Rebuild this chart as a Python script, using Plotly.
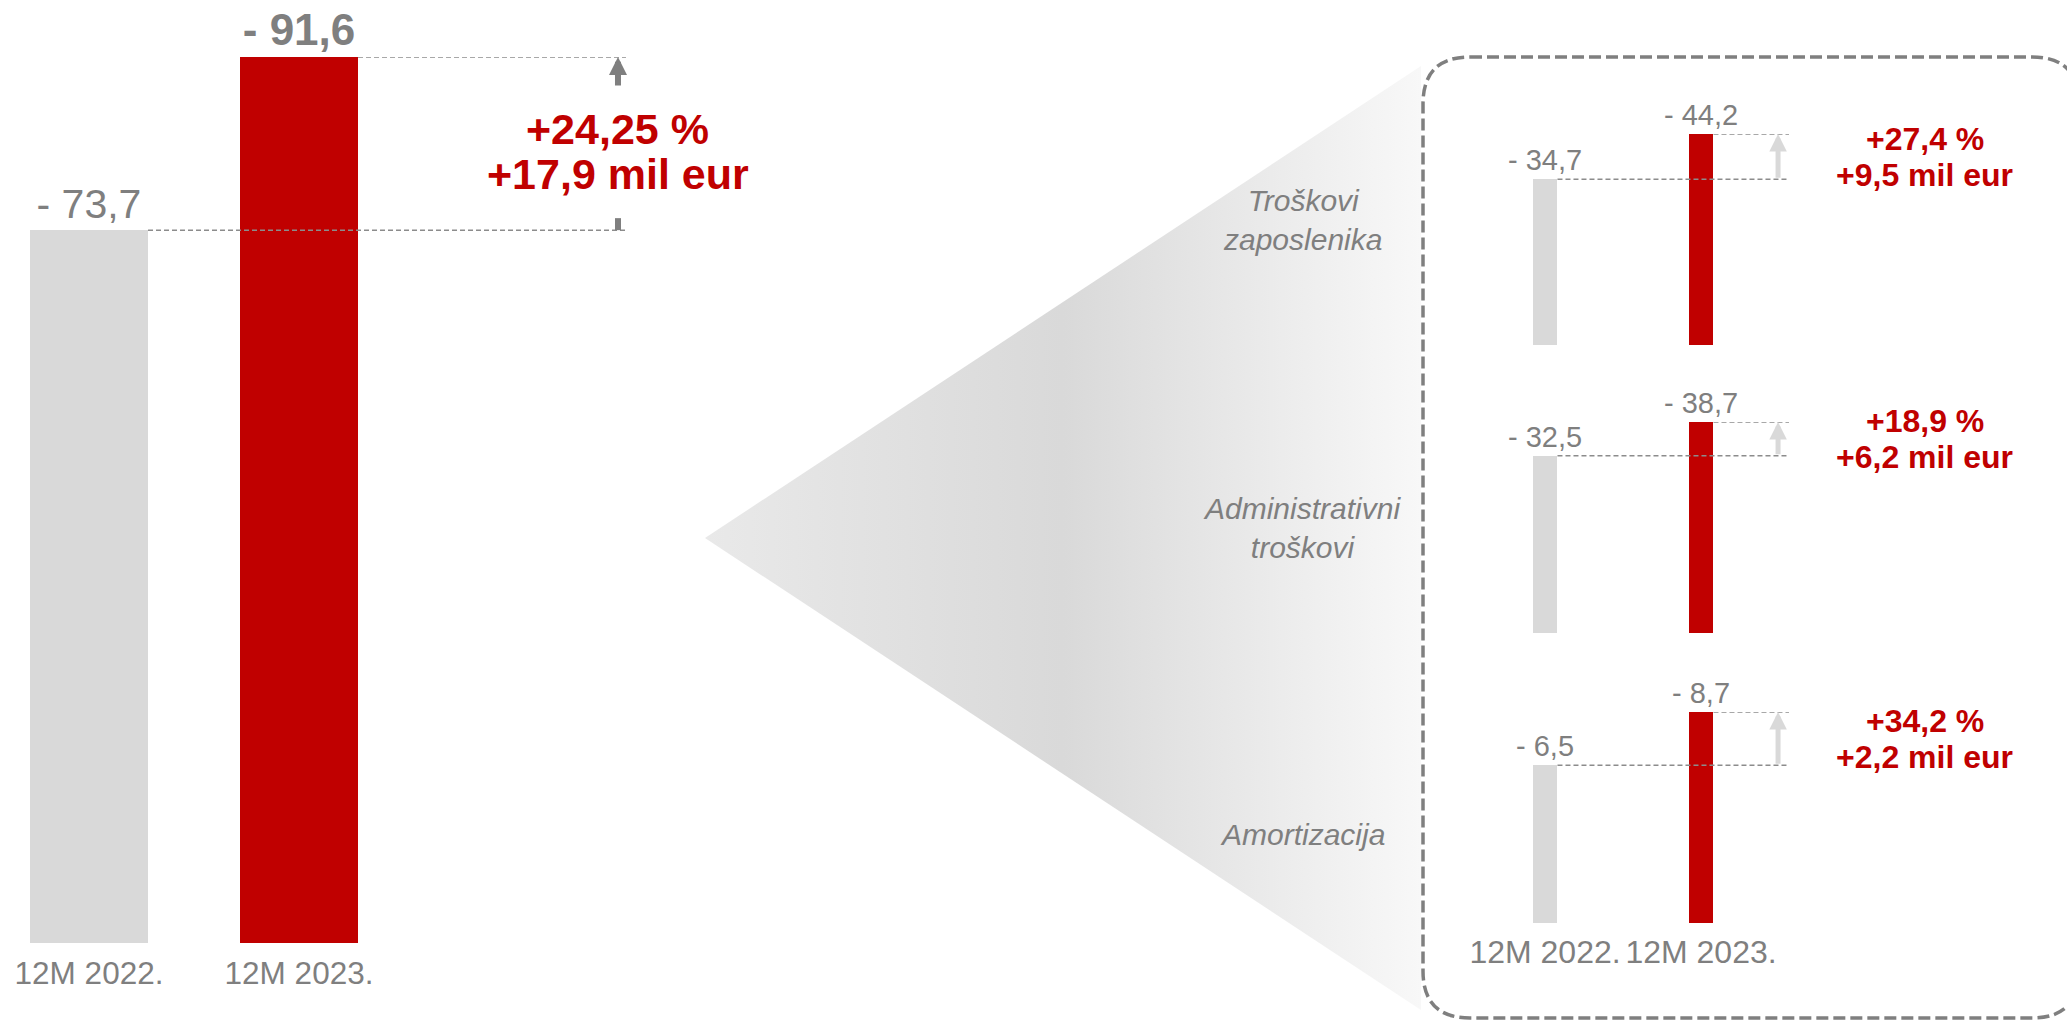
import base64
import plotly.graph_objects as go

# ---- data ----
PERIODS = ["12M 2022.", "12M 2023."]
TOTAL = [73.7, 91.6]
TOTAL_PCT = 24.25
TOTAL_DIFF = 17.9

GROUPS = ["Troškovi<br>zaposlenika", "Administrativni<br>troškovi", "Amortizacija"]
PREV = [34.7, 32.5, 6.5]
CURR = [44.2, 38.7, 8.7]
PCT = [27.4, 18.9, 34.2]
DIFF = [9.5, 6.2, 2.2]

W, H = 2067, 1022
RED = "#C00000"
LIGHT = "#D9D9D9"
TXT = "#7F7F7F"
FONT = "Arial, Liberation Sans, sans-serif"


def px_x(p):
    return p / W


def px_y(p):
    return 1 - p / H


def neg(v):
    return "- " + f"{v:.1f}".replace(".", ",")


def plus(v, unit):
    return "+" + f"{v:g}".replace(".", ",") + unit


fig = go.Figure()

# ---- main chart ----
fig.add_trace(go.Bar(
    x=PERIODS, y=TOTAL, width=0.562,
    marker=dict(color=[LIGHT, RED], line=dict(width=0)),
    text=[neg(TOTAL[0]), "<b>" + neg(TOTAL[1]) + "</b>"],
    textposition="outside", constraintext="none", cliponaxis=False,
    textfont=dict(size=[41, 44], color=TXT, family=FONT),
    xaxis="x", yaxis="y", showlegend=False, hoverinfo="skip",
))

main_px = 210  # px per category
layout_axes = dict(
    xaxis=dict(domain=[0, px_x(682)], range=[-89 / main_px, (682 - 89) / main_px],
               showgrid=False, zeroline=False, showline=False, ticks="",
               ticklabelstandoff=8,
               tickfont=dict(size=31.5, color=TXT, family=FONT), anchor="y"),
    yaxis=dict(domain=[px_y(943), px_y(57)], range=[0, max(TOTAL)], visible=False, anchor="x"),
)

shapes = []
annotations = []
guide = dict(color="#8C8C8C", width=1.5, dash="5px,3px")

# guide lines + arrow on main chart
x_end = 2.557
x_arrow = 2.519
shapes.append(dict(type="line", xref="x", yref="y", x0=0.281, x1=x_end, y0=TOTAL[0], y1=TOTAL[0],
                   line=guide, layer="above"))
shapes.append(dict(type="line", xref="x", yref="y", x0=1.281, x1=x_end, y0=TOTAL[1], y1=TOTAL[1],
                   line=guide, layer="above"))
shapes.append(dict(type="line", xref="x", yref="y", x0=x_arrow, x1=x_arrow,
                   ysizemode="pixel", yanchor=TOTAL[0], y0=0, y1=12,
                   line=dict(color=TXT, width=6)))
annotations.append(dict(xref="x", yref="y", x=x_arrow, y=TOTAL[1], ax=0, ay=30, text="",
                        showarrow=True, arrowhead=2, arrowsize=0.6, arrowwidth=6, arrowcolor=TXT))
mid = (TOTAL[0] + TOTAL[1]) / 2
annotations.append(dict(xref="x", yref="y", x=x_arrow, y=mid, yshift=15, showarrow=False,
                        text="<b>" + plus(TOTAL_PCT, " %") + "</b>",
                        font=dict(size=43, color=RED, family=FONT)))
annotations.append(dict(xref="x", yref="y", x=x_arrow, y=mid, yshift=-30, showarrow=False,
                        text="<b>" + plus(TOTAL_DIFF, " mil eur") + "</b>",
                        font=dict(size=43, color=RED, family=FONT)))

# ---- breakdown mini charts ----
mini_px = 156
bottoms = [345, 633, 923]
bar_h = 211
label_y = [220, 528, 834]
for i in range(len(GROUPS)):
    k = i + 2
    xa, ya = f"x{k}", f"y{k}"
    fig.add_trace(go.Bar(
        x=PERIODS, y=[PREV[i], CURR[i]], width=0.16,
        marker=dict(color=[LIGHT, RED], line=dict(width=0)),
        text=[neg(PREV[i]), neg(CURR[i])],
        textposition="outside", constraintext="none", cliponaxis=False,
        textfont=dict(size=29, color=TXT, family=FONT),
        xaxis=xa, yaxis=ya, showlegend=False, hoverinfo="skip",
    ))
    layout_axes[f"xaxis{k}"] = dict(
        domain=[px_x(1430), px_x(2060)],
        range=[(1430 - 1545) / mini_px, (2060 - 1545) / mini_px],
        showgrid=False, zeroline=False, showline=False, ticks="",
        showticklabels=(i == len(GROUPS) - 1), ticklabelstandoff=7,
        tickfont=dict(size=32, color=TXT, family=FONT), anchor=ya,
    )
    layout_axes[f"yaxis{k}"] = dict(
        domain=[px_y(bottoms[i]), px_y(bottoms[i] - bar_h)],
        range=[0, max(PREV[i], CURR[i])], visible=False, anchor=xa,
    )
    for x0, yv in [(0.08, PREV[i]), (1.08, CURR[i])]:
        shapes.append(dict(type="line", xref=xa, yref=ya, x0=x0, x1=1.564, y0=yv, y1=yv,
                           line=guide, layer="above"))
    annotations.append(dict(xref=xa, yref=ya, x=1.494, y=CURR[i], axref=xa, ayref=ya,
                            ax=1.494, ay=PREV[i], text="", showarrow=True, arrowhead=2,
                            arrowsize=0.7, arrowwidth=5, arrowcolor=LIGHT))
    m = (PREV[i] + CURR[i]) / 2
    annotations.append(dict(xref=xa, yref=ya, x=2.435, y=m, yshift=17.5, showarrow=False,
                            text="<b>" + plus(PCT[i], " %") + "</b>",
                            font=dict(size=32, color=RED, family=FONT)))
    annotations.append(dict(xref=xa, yref=ya, x=2.435, y=m, yshift=-18, showarrow=False,
                            text="<b>" + plus(DIFF[i], " mil eur") + "</b>",
                            font=dict(size=32, color=RED, family=FONT)))
    annotations.append(dict(xref="paper", yref="paper", x=px_x(1302), y=px_y(label_y[i]),
                            xanchor="center", yanchor="middle",
                            showarrow=False, text="<i>" + GROUPS[i] + "</i>",
                            font=dict(size=30, color=TXT, family=FONT)))

# dashed rounded frame
x0, y0, x1, y1, r = 1423, 57, 2079, 1018, 47
path = (f"M {px_x(x0 + r)} {px_y(y0)} L {px_x(x1 - r)} {px_y(y0)} "
        f"Q {px_x(x1)} {px_y(y0)} {px_x(x1)} {px_y(y0 + r)} "
        f"L {px_x(x1)} {px_y(y1 - r)} Q {px_x(x1)} {px_y(y1)} {px_x(x1 - r)} {px_y(y1)} "
        f"L {px_x(x0 + r)} {px_y(y1)} Q {px_x(x0)} {px_y(y1)} {px_x(x0)} {px_y(y1 - r)} "
        f"L {px_x(x0)} {px_y(y0 + r)} Q {px_x(x0)} {px_y(y0)} {px_x(x0 + r)} {px_y(y0)} Z")
shapes.append(dict(type="path", xref="paper", yref="paper", path=path,
                   line=dict(color=TXT, width=3.5, dash="12px,5px"), layer="above"))

# zoom funnel with gradient (svg image)
tri_w, tri_h = 1421 - 705, 1010 - 66
svg = (f'<svg xmlns="http://www.w3.org/2000/svg" width="{tri_w}" height="{tri_h}" '
       f'viewBox="0 0 {tri_w} {tri_h}"><defs><linearGradient id="g" x1="0" y1="0" x2="1" y2="0">'
       '<stop offset="0" stop-color="#E9E9E9"/><stop offset="0.5" stop-color="#D9D9D9"/>'
       '<stop offset="1" stop-color="#F8F8F8"/></linearGradient></defs>'
       f'<polygon points="0,{tri_h / 2} {tri_w},0 {tri_w},{tri_h}" fill="url(#g)"/></svg>')
src = "data:image/svg+xml;base64," + base64.b64encode(svg.encode()).decode()

fig.update_layout(
    width=W, height=H,
    margin=dict(l=0, r=0, t=0, b=0),
    paper_bgcolor="white", plot_bgcolor="rgba(0,0,0,0)",
    font=dict(family=FONT, color=TXT),
    bargap=0,
    shapes=shapes,
    annotations=annotations,
    images=[dict(source=src, xref="paper", yref="paper", x=px_x(705), y=px_y(66),
                 sizex=tri_w / W, sizey=tri_h / H, sizing="stretch",
                 xanchor="left", yanchor="top", layer="below")],
    **layout_axes,
)

fig.write_html("out.html", config={"displayModeBar": False},
               post_script="document.body.style.margin='0px';")
